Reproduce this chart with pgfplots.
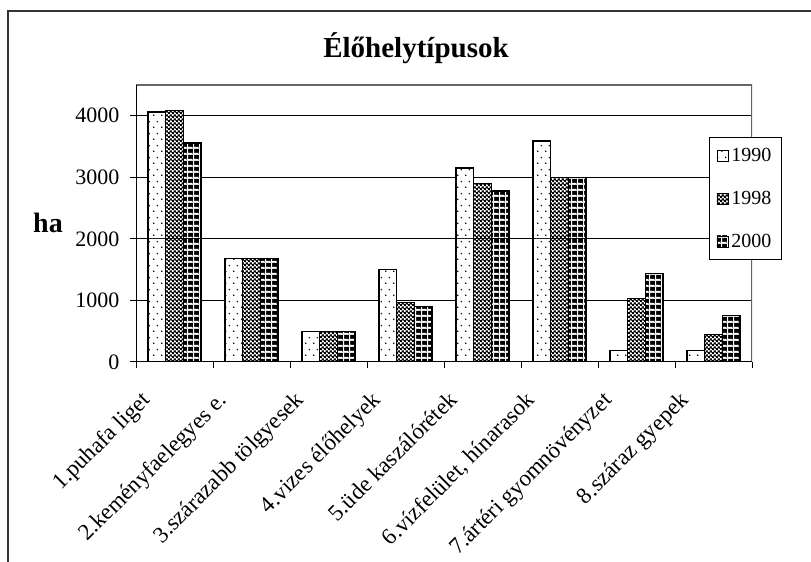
\documentclass[border=0pt]{standalone}
\usepackage{fontspec}
\setmainfont{Liberation Serif}
\usepackage{pgfplots}
\pgfplotsset{compat=1.18}
\usetikzlibrary{patterns}

\pgfdeclarepatterninherentlycolored{dotsW}{\pgfpointorigin}{\pgfqpoint{8pt}{12pt}}{\pgfqpoint{8pt}{12pt}}{%
 \pgfsetfillcolor{white}%
 \pgfpathrectangle{\pgfpointorigin}{\pgfqpoint{8pt}{12pt}}\pgfusepath{fill}%
 \pgfsetfillcolor{black}%
 \pgfpathcircle{\pgfqpoint{2pt}{3pt}}{0.9pt}\pgfusepath{fill}%
 \pgfpathcircle{\pgfqpoint{6pt}{9pt}}{0.9pt}\pgfusepath{fill}%
}
\pgfdeclarepatterninherentlycolored{checkB}{\pgfpointorigin}{\pgfqpoint{4pt}{4pt}}{\pgfqpoint{4pt}{4pt}}{%
 \pgfsetfillcolor{white}%
 \pgfpathrectangle{\pgfpointorigin}{\pgfqpoint{4pt}{4pt}}\pgfusepath{fill}%
 \pgfsetfillcolor{black}%
 \pgfpathrectangle{\pgfpointorigin}{\pgfqpoint{2.4pt}{2.4pt}}\pgfusepath{fill}%
 \pgfpathrectangle{\pgfqpoint{2pt}{2pt}}{\pgfqpoint{2.4pt}{2.4pt}}\pgfusepath{fill}%
}
\pgfdeclarepatterninherentlycolored{gridB}{\pgfpointorigin}{\pgfqpoint{5.5pt}{5.5pt}}{\pgfqpoint{5.5pt}{5.5pt}}{%
 \pgfsetfillcolor{black}%
 \pgfpathrectangle{\pgfpointorigin}{\pgfqpoint{5.5pt}{5.5pt}}\pgfusepath{fill}%
 \pgfsetfillcolor{white}%
 \pgfpathrectangle{\pgfpointorigin}{\pgfqpoint{5.5pt}{1.2pt}}\pgfusepath{fill}%
 \pgfpathrectangle{\pgfpointorigin}{\pgfqpoint{1.2pt}{5.5pt}}\pgfusepath{fill}%
}

\begin{document}
\begin{tikzpicture}
\useasboundingbox (0pt,0pt) rectangle (811pt,562pt);
\fill[white] (0pt,0pt) rectangle (811pt,562pt);
\draw[black!80, line width=1.5pt] (8pt,0pt) -- (8pt,551pt) -- (811pt,551pt);
\node[font=\fontsize{29}{29}\selectfont\bfseries] at (416pt,514pt) {Élőhelytípusok};
\node[font=\fontsize{28}{28}\selectfont\bfseries] at (48pt,339pt) {ha};
\begin{axis}[
 at={(136pt,200pt)}, anchor=south west,
 scale only axis, width=616pt, height=277pt,
 ybar=0pt, bar width=17.7pt,
 xmin=-0.5, xmax=7.5, ymin=0, ymax=4500,
 xtick={0,...,7},
 xticklabels={1.puhafa liget,2.keményfaelegyes e.,3.szárazabb tölgyesek,4.vizes élőhelyek,5.üde kaszálórétek,{6.vízfelület, hínarasok},7.ártéri gyomnövényzet,8.száraz gyepek},
 major x tick style={draw=none},
 minor xtick={-0.5,0.5,...,7.5},
 ytick={0,1000,2000,3000,4000},
 xtick pos=bottom, ytick pos=left,
 tick align=outside, major tick length=6pt, minor tick length=6pt,
 tick style={black, line width=1pt},
 ymajorgrids, grid style={black, line width=1pt},
 axis line style={draw=none},
 /pgf/number format/assume math mode=true,
 /pgf/number format/set thousands separator={},
 yticklabel style={font=\fontsize{22}{22}\selectfont, xshift=-7pt},
 xticklabel style={font=\fontsize{23}{23}\selectfont, xshift=-35pt, yshift=-17pt, rotate=45, anchor=north east},
 legend image code/.code={\draw[#1, line width=0.8pt] (0pt,-5.5pt) rectangle (11pt,5.5pt);},
 legend style={at={(0.9302,0.8123)}, anchor=north west, draw=black, line width=1pt, fill=white,
   font=\fontsize{20}{20}\selectfont, row sep=24pt, inner xsep=7pt, inner ysep=9pt,
   nodes={inner xsep=3pt}},
 legend cell align=left,
]
\addplot[draw=black, line width=1.3pt, pattern=dotsW] coordinates {(0,4060) (1,1680) (2,500) (3,1500) (4,3150) (5,3590) (6,190) (7,190)};
\addplot[draw=black, line width=1.3pt, pattern=checkB] coordinates {(0,4090) (1,1680) (2,500) (3,970) (4,2900) (5,3000) (6,1030) (7,450)};
\addplot[draw=black, line width=1.3pt, pattern=gridB] coordinates {(0,3560) (1,1680) (2,500) (3,900) (4,2780) (5,3000) (6,1440) (7,750)};
\legend{1990,1998,2000}
\draw[black!60, line width=1.2pt] (rel axis cs:0,1) -- (rel axis cs:1,1) -- (rel axis cs:1,0);
\draw[black, line width=1.2pt] (rel axis cs:0,1) -- (rel axis cs:0,0) -- (rel axis cs:1,0);
\end{axis}
\end{tikzpicture}
\end{document}
